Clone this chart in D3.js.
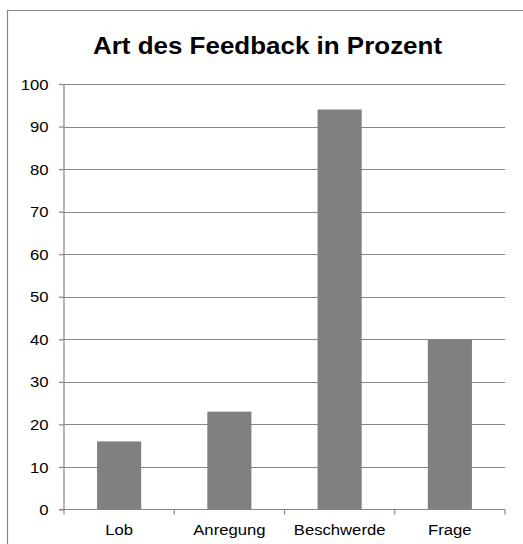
<!DOCTYPE html>
<html>
<head>
<meta charset="utf-8">
<script src="https://cdn.jsdelivr.net/npm/d3@7"></script>
<style>
  html, body { margin: 0; background: #fff; overflow: hidden; }
  svg { display: block; overflow: hidden; font-family: "Liberation Sans", Arial, sans-serif; }
</style>
</head>
<body>
<div id="chart"></div>
<script>
const categories = ["Lob", "Anregung", "Beschwerde", "Frage"];
const values = [16, 23, 94, 40];
const yTicks = [0, 10, 20, 30, 40, 50, 60, 70, 80, 90, 100];
const title = "Art des Feedback in Prozent";

const W = 523, H = 544;
const MARGIN = { TOP: 84, LEFT: 64, RIGHT: 18 };
const WIDTH = W - MARGIN.LEFT - MARGIN.RIGHT;
const HEIGHT = 509.5 - MARGIN.TOP;
const GREY = "#878787";
const STRETCH = 1.15; // labels in the picture are a bit wider than Arial

const svg = d3.select("#chart")
  .append("svg")
    .attr("width", W)
    .attr("height", H);

// chart frame: only top and left edges are inside the picture
svg.append("path")
  .attr("d", `M7.5,${H}V10.5H${W}`)
  .attr("fill", "none")
  .attr("stroke", GREY)
  .attr("stroke-width", 1.2);

svg.append("text")
  .attr("transform", "translate(267.5, 53.5) scale(1.06, 1)")
  .attr("text-anchor", "middle")
  .attr("font-weight", "bold")
  .attr("font-size", 24.5)
  .attr("fill", "#000")
  .text(title);

const g = svg.append("g")
  .attr("transform", `translate(${MARGIN.LEFT}, ${MARGIN.TOP})`);

const x = d3.scaleBand()
  .domain(categories)
  .range([0, WIDTH])
  .paddingInner(0.6)
  .paddingOuter(0.3);

const xEdges = d3.scaleBand()
  .domain(categories)
  .range([0, WIDTH]);

const y = d3.scaleLinear()
  .domain([0, 100])
  .range([HEIGHT, 0]);

// gridlines
g.append("g")
  .selectAll("line")
  .data(yTicks.filter(d => d > 0))
  .enter()
  .append("line")
    .attr("x1", 0)
    .attr("x2", WIDTH)
    .attr("y1", d => Math.round(y(d)) + 0.5)
    .attr("y2", d => Math.round(y(d)) + 0.5)
    .attr("stroke", GREY)
    .attr("stroke-width", 1.2);

// bars
g.selectAll("rect.bar")
  .data(values)
  .enter()
  .append("rect")
    .attr("class", "bar")
    .attr("x", (d, i) => x(categories[i]))
    .attr("y", d => y(d))
    .attr("width", x.bandwidth())
    .attr("height", d => HEIGHT - y(d))
    .attr("fill", "#808080");

// y axis
const yAxisCall = d3.axisLeft(y)
  .tickValues(yTicks)
  .tickSize(5)
  .tickFormat("");
const yAxisGroup = g.append("g").call(yAxisCall);
yAxisGroup.select(".domain").attr("stroke", GREY).attr("stroke-width", 1.2).attr("d", `M0,${HEIGHT}V0`);
yAxisGroup.selectAll(".tick line").attr("stroke", GREY).attr("stroke-width", 1.2);
yAxisGroup.selectAll(".tick").append("text")
  .attr("transform", `translate(-15.5, 0) scale(${STRETCH}, 1)`)
  .attr("dy", "0.35em")
  .attr("text-anchor", "end")
  .attr("font-size", 14.5)
  .attr("fill", "#000")
  .attr("font-family", "Liberation Sans, Arial, sans-serif")
  .text(d => d);

// x axis, ticks on band edges
const xAxisGroup = g.append("g")
  .attr("transform", `translate(0, ${HEIGHT})`);
xAxisGroup.append("line")
  .attr("x1", -5)
  .attr("x2", WIDTH)
  .attr("stroke", GREY)
  .attr("stroke-width", 1.2);
xAxisGroup.selectAll("line.edge")
  .data(d3.range(categories.length + 1))
  .enter()
  .append("line")
    .attr("class", "edge")
    .attr("x1", i => i * xEdges.step())
    .attr("x2", i => i * xEdges.step())
    .attr("y1", 0)
    .attr("y2", 5)
    .attr("stroke", GREY)
    .attr("stroke-width", 1.2);
xAxisGroup.selectAll("text")
  .data(categories)
  .enter()
  .append("text")
    .attr("transform", d => `translate(${xEdges(d) + xEdges.bandwidth() / 2}, 25.5) scale(${STRETCH}, 1)`)
    .attr("text-anchor", "middle")
    .attr("font-size", 14.5)
    .attr("fill", "#000")
    .text(d => d);
</script>
</body>
</html>
